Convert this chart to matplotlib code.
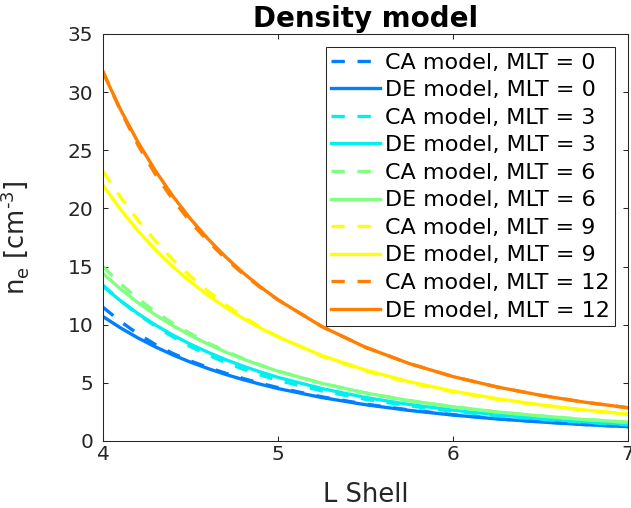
import matplotlib
matplotlib.use("Agg")
import matplotlib.pyplot as plt

# --- Data (L shell grid and densities in cm^-3) ---
L_SHELL = [4.0, 4.1, 4.2, 4.3, 4.4, 4.5, 4.6, 4.7, 4.8, 4.9, 5.0,
           5.25, 5.5, 5.75, 6.0, 6.25, 6.5, 6.75, 7.0]

MLT = [0, 3, 6, 9, 12]

CA_MLT0 = [11.50, 10.28, 9.21, 8.29, 7.52, 6.88, 6.33, 5.83, 5.38, 4.96, 4.59,
           3.80, 3.17, 2.67, 2.26, 1.92, 1.66, 1.42, 1.23]
DE_MLT0 = [10.70, 9.73, 8.86, 8.09, 7.40, 6.78, 6.23, 5.73, 5.28, 4.88, 4.51,
           3.74, 3.12, 2.63, 2.23, 1.90, 1.64, 1.41, 1.23]

CA_MLT3 = [13.40, 12.06, 10.90, 9.87, 8.95, 8.12, 7.41, 6.75, 6.19, 5.68, 5.22,
           4.31, 3.59, 3.02, 2.55, 2.17, 1.87, 1.61, 1.39]
DE_MLT3 = [13.30, 12.06, 10.95, 9.97, 9.10, 8.32, 7.63, 7.00, 6.44, 5.93, 5.47,
           4.51, 3.74, 3.14, 2.65, 2.25, 1.93, 1.66, 1.43]

CA_MLT6 = [15.00, 13.52, 12.24, 11.10, 10.11, 9.23, 8.43, 7.73, 7.10, 6.53, 6.02,
           4.96, 4.13, 3.47, 2.94, 2.50, 2.15, 1.85, 1.61]
DE_MLT6 = [14.40, 13.07, 11.89, 10.85, 9.91, 9.08, 8.33, 7.65, 7.05, 6.50, 6.00,
           4.96, 4.13, 3.47, 2.94, 2.50, 2.15, 1.85, 1.61]

CA_MLT9 = [23.20, 20.97, 18.97, 17.19, 15.58, 14.16, 12.88, 11.74, 10.70, 9.79, 8.98,
           7.30, 6.02, 5.02, 4.23, 3.59, 3.08, 2.65, 2.31]
DE_MLT9 = [22.00, 19.92, 18.07, 16.44, 14.98, 13.69, 12.53, 11.49, 10.55, 9.71, 8.95,
           7.35, 6.10, 5.10, 4.29, 3.64, 3.11, 2.67, 2.31]

CA_MLT12 = [31.80, 28.41, 25.45, 22.93, 20.74, 18.85, 17.18, 15.70, 14.37, 13.20, 12.14,
            9.85, 8.06, 6.66, 5.54, 4.65, 3.93, 3.34, 2.86]
DE_MLT12 = [31.70, 28.51, 25.70, 23.23, 21.04, 19.10, 17.38, 15.85, 14.47, 13.25, 12.14,
            9.85, 8.06, 6.66, 5.54, 4.65, 3.93, 3.34, 2.86]

CA_CURVES = [CA_MLT0, CA_MLT3, CA_MLT6, CA_MLT9, CA_MLT12]
DE_CURVES = [DE_MLT0, DE_MLT3, DE_MLT6, DE_MLT9, DE_MLT12]

COLORS = ["#0080ff", "#00f0f0", "#80ff80", "#ffff00", "#ff8000"]

X_TICKS = [4, 5, 6, 7]
Y_TICKS = [0, 5, 10, 15, 20, 25, 30, 35]

# --- Figure ---
fig = plt.figure(figsize=(6.31, 5.08), dpi=100)
ax = fig.add_axes([0.1632, 0.1319, 0.8320, 0.8012])

for mlt, ca, de, col in zip(MLT, CA_CURVES, DE_CURVES, COLORS):
    ax.plot(L_SHELL, ca, color=col, lw=2.4, dashes=(4.0, 3.8),
            label=f"CA model, MLT = {mlt}")
    ax.plot(L_SHELL, de, color=col, lw=2.4,
            label=f"DE model, MLT = {mlt}")

ax.set_xlim(4, 7)
ax.set_ylim(0, 35)
ax.set_xticks(X_TICKS)
ax.set_yticks(Y_TICKS)

axis_col = "#262626"
for sp in ax.spines.values():
    sp.set_color(axis_col)
    sp.set_linewidth(0.75)
ax.tick_params(axis="both", direction="in", length=3.5, width=0.75,
               colors=axis_col, labelsize=14.5, top=True, right=True)
ax.tick_params(axis="x", pad=3)
ax.tick_params(axis="y", pad=7)

ax.set_xlabel("L Shell", fontsize=18.5, color=axis_col, labelpad=13)
ax.set_ylabel(r"n$_\mathregular{e}$ [cm$^{\text{-3}}$]", fontsize=18.5,
              color=axis_col)
ax.yaxis.set_label_coords(-0.137, 0.5)
ax.set_title("Density model", fontsize=20, fontweight="bold", pad=5)

leg = ax.legend(loc="upper right", bbox_to_anchor=(0.9752, 0.968),
                borderaxespad=0, fontsize=16, handlelength=2.2,
                handletextpad=0.2, labelspacing=0.34, borderpad=0.25,
                fancybox=False, framealpha=1)
leg.get_frame().set_edgecolor(axis_col)
leg.get_frame().set_linewidth(0.75)

fig.savefig("out.png", dpi=100)
